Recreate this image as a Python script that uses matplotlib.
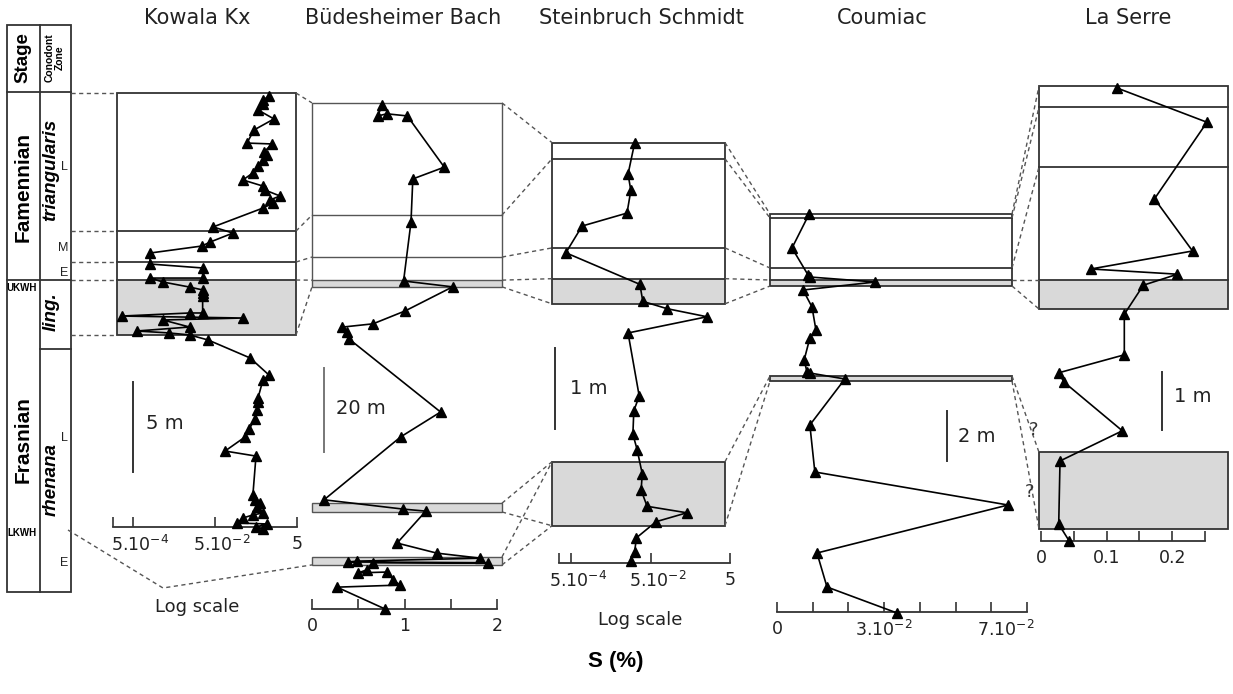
import matplotlib
matplotlib.use("Agg")
import matplotlib.pyplot as plt
from matplotlib.patches import Rectangle
from matplotlib.transforms import blended_transform_factory, ScaledTranslation

plt.rcParams["font.family"] = ["DejaVu Sans"]

# ---- measured S (%) and height above section base (m) ----
kowala_s = [1.04, 0.74, 0.74, 0.56, 1.37, 0.45, 0.30, 1.23, 0.78, 0.93, 0.74, 0.56,
            0.42, 0.24, 0.74, 0.83, 1.92, 1.10, 1.30, 0.74, 0.045, 0.137, 0.038, 0.024,
            0.0013, 0.0013, 0.025, 0.025, 0.0013, 0.0027, 0.012, 0.025, 0.025, 0.025,
            0.025, 0.012, 0.00027, 0.24, 0.0027, 0.012, 0.00063, 0.0038, 0.012, 0.034,
            0.36, 1.04, 0.74, 0.56, 0.56, 0.53, 0.47, 0.34, 0.27, 0.088, 0.5, 0.42,
            0.47, 0.63, 0.53, 0.74, 0.42, 0.24, 0.17, 0.93, 0.5, 0.74]
kowala_h = [23.94, 23.72, 23.5, 23.17, 22.67, 22.06, 21.33, 21.28, 20.83, 20.67, 20.39, 20.06,
            19.67, 19.28, 18.94, 18.72, 18.39, 18.17, 18.0, 17.72, 16.67, 16.33, 15.83, 15.61,
            15.22, 14.61, 14.39, 13.83, 13.83, 13.61, 13.33, 13.17, 13.0, 12.83,
            11.89, 11.89, 11.72, 11.61, 11.5, 11.11, 10.89, 10.78, 10.67, 10.39,
            9.39, 8.44, 8.17, 7.17, 6.94, 6.5, 6.0, 5.44, 5.0, 4.22, 3.94, 1.78,
            1.5, 1.33, 1.11, 0.78, 0.67, 0.5, 0.22, 0.17, 0.0, -0.11]

budes_s = [0.76, 0.71, 0.81, 1.03, 1.43, 1.09, 1.07, 0.99, 1.52, 1.01, 0.66, 0.32, 0.38,
           0.40, 1.39, 0.96, 0.13, 0.98, 1.23, 0.92, 1.35, 1.82, 0.49, 0.39, 1.90, 0.66,
           0.59, 0.50, 0.81, 0.88, 0.95, 0.27, 0.79]
budes_h = [120.0, 117.4, 117.9, 117.4, 105.2, 102.4, 92.1, 78.1, 76.7, 71.0, 67.9, 67.1, 66.0,
           64.3, 46.9, 41.0, 26.0, 23.8, 23.3, 15.7, 13.3, 12.1, 11.4, 11.2, 11.0, 11.0,
           9.3, 8.6, 8.8, 6.9, 5.7, 5.2, 0.0]

stein_s = [0.020, 0.0136, 0.016, 0.0128, 0.00095, 0.00037, 0.027, 0.032, 0.13, 1.32, 0.0136,
           0.026, 0.019, 0.018, 0.023, 0.031, 0.029, 0.041, 0.41, 0.069, 0.022, 0.020, 0.016]
stein_h = [5.19, 4.80, 4.60, 4.32, 4.16, 3.83, 3.44, 3.23, 3.14, 3.04, 2.84,
           2.06, 1.88, 1.59, 1.40, 1.10, 0.90, 0.70, 0.62, 0.51, 0.31, 0.14, 0.02]

coumiac_s = [0.0090, 0.0042, 0.0087, 0.0092, 0.0275, 0.0073, 0.0098, 0.0109, 0.0092, 0.0076,
             0.0084, 0.0092, 0.0190, 0.0092, 0.0106, 0.0647, 0.0112, 0.0140, 0.0336]
coumiac_h = [15.92, 14.56, 13.48, 13.40, 13.20, 12.88, 12.20, 11.28, 10.96, 10.08,
             9.60, 9.56, 9.32, 7.48, 5.60, 4.28, 2.36, 1.00, -0.04]

serre_s = [0.116, 0.253, 0.173, 0.231, 0.076, 0.208, 0.156, 0.127, 0.127, 0.027, 0.035,
           0.124, 0.029, 0.027, 0.043]
serre_h = [7.81, 7.22, 5.90, 5.00, 4.69, 4.60, 4.41, 3.91, 3.21, 2.90, 2.74,
           1.90, 1.38, 0.29, 0.0]

# ---- stratigraphic frames (m): frame bottom/top, inner lines, shaded parts, extra bands ----
kowala_frame = (10.67, 24.11)
kowala_lines = [16.44, 14.72, 13.72]
kowala_grey = [(10.67, 13.72)]
kowala_bands = []

budes_frame = (76.7, 120.5)
budes_lines = [93.8, 83.8, 78.3]
budes_grey = [(76.7, 78.3)]
budes_bands = [(23.1, 25.2), (10.5, 12.4)]

stein_frame = (3.20, 5.19)
stein_lines = [4.99, 3.89, 3.51]
stein_grey = [(3.20, 3.51)]
stein_bands = [(0.46, 1.25)]

coumiac_frame = (13.04, 15.92)
coumiac_lines = [15.76, 13.76, 13.28]
coumiac_grey = [(13.04, 13.28)]
coumiac_bands = [(9.24, 9.44)]

serre_frame = (4.0, 7.84)
serre_lines = [7.48, 6.45, 4.5]
serre_grey = [(4.0, 4.5)]
serre_bands = [(0.21, 1.53)]

# correlation ties between neighbouring sections (m in left section, m in right section)
ties_kow_bud = [(24.11, 120.5), (16.44, 93.8), (14.72, 83.8), (13.72, 78.3), (10.67, 76.7)]
ties_bud_ste = [(120.5, 5.19), (93.8, 4.99), (83.8, 3.89), (78.3, 3.51), (76.7, 3.20),
                (25.2, 1.25), (23.1, 0.46), (12.4, 1.25), (10.5, 0.46)]
ties_ste_cou = [(5.19, 15.92), (4.99, 15.76), (3.89, 13.76), (3.51, 13.28), (3.20, 13.04),
                (1.25, 9.44), (0.46, 9.24)]
ties_cou_ser = [(15.92, 7.84), (15.76, 7.48), (13.76, 6.45), (13.28, 4.5), (13.04, 4.0),
                (9.44, 1.53), (9.24, 0.21)]

GREY = "#d9d9d9"
EDGE = "#333333"

W, H = 1233, 694
fig = plt.figure(figsize=(W / 100, H / 100), dpi=100)
base = fig.add_axes([0, 0, 1, 1])
base.set_xlim(0, W)
base.set_ylim(H, 0)
base.axis("off")


def make_panel(x0, x1, y_axis, pxpm, xlim, log=False):
    top = 70
    ax = fig.add_axes([x0 / W, 1 - y_axis / H, (x1 - x0) / W, (y_axis - top) / H])
    if log:
        ax.set_xscale("log")
    ax.set_xlim(*xlim)
    ax.set_ylim(0, (y_axis - top) / pxpm)
    ax.patch.set_alpha(0)
    for s in ("top", "left", "right"):
        ax.spines[s].set_visible(False)
    ax.spines["bottom"].set_color(EDGE)
    ax.spines["bottom"].set_linewidth(1.3)
    ax.set_yticks([])
    ax.minorticks_off()
    ax.tick_params(axis="x", which="both", direction="in", length=7, width=1.2,
                   color=EDGE, labelsize=12.5, pad=6, labelcolor="#222222")
    return ax


def draw_frame(ax, bx0, bx1, frame, lines, grey, bands, edge=EDGE, lw=1.3):
    tr = blended_transform_factory(base.transData, ax.transData)
    for b, t in grey:
        base.add_patch(Rectangle((bx0, b), bx1 - bx0, t - b, transform=tr, fc=GREY, ec="none"))
    base.add_patch(Rectangle((bx0, frame[0]), bx1 - bx0, frame[1] - frame[0], transform=tr,
                             fill=False, ec=edge, lw=lw))
    for h in lines:
        base.plot([bx0, bx1], [h, h], transform=tr, color=edge, lw=lw)
    for b, t in bands:
        base.add_patch(Rectangle((bx0, b), bx1 - bx0, t - b, transform=tr, fc=GREY, ec=edge, lw=lw))


def ypx(ax, h):
    disp = ax.transData.transform((ax.get_xlim()[0], h))
    return base.transData.inverted().transform(disp)[1]


def scale_bar(ax, x, h0, h1, label, tx, ty, color=EDGE):
    tr = blended_transform_factory(base.transData, ax.transData)
    base.plot([x, x], [h0, h1], transform=tr, color=color, lw=1.4)
    base.text(tx, ty, label, fontsize=14, va="center", ha="left", color="#222222")


def profile(ax, s, h):
    ax.plot(s, h, color="black", lw=1.2, marker="^", ms=6.5, mfc="black", mec="black",
            clip_on=False, zorder=5)


def nudge_labels(ax, dx_px):
    # superscripted labels sit slightly right of their tick in the original
    off = ScaledTranslation(dx_px / 100, 0, fig.dpi_scale_trans)
    for lab in ax.get_xticklabels():
        if "$" in lab.get_text():
            lab.set_transform(lab.get_transform() + off)


# ---- panels ----
ax_kow = make_panel(113, 297, 527, 18, (1.63e-4, 5), log=True)
ax_kow.set_xticks([1.63e-4, 5e-4, 5e-2, 5], ["", "5.10$^{-4}$", "5.10$^{-2}$", "5"])
ax_bud = make_panel(312, 497, 609, 4.2, (0, 2))
ax_bud.set_xticks([0, 0.5, 1, 1.5, 2], ["0", "", "1", "", "2"])
ax_ste = make_panel(559, 730, 563, 81, (2.49e-4, 5), log=True)
ax_ste.set_xticks([2.49e-4, 5e-4, 5e-2, 5], ["", "5.10$^{-4}$", "5.10$^{-2}$", "5"])
ax_cou = make_panel(777, 1027, 612, 25, (0, 0.07))
ax_cou.set_xticks([0, 0.01, 0.02, 0.03, 0.04, 0.05, 0.06, 0.07],
                  ["0", "", "", "3.10$^{-2}$", "", "", "", "7.10$^{-2}$"])
ax_ser = make_panel(1041, 1205, 541, 58, (0, 0.25))
ax_ser.set_xticks([0, 0.05, 0.1, 0.15, 0.2, 0.25], ["0", "", "0.1", "", "0.2", ""])
for ax in (ax_kow, ax_ste):
    ax.minorticks_off()
    nudge_labels(ax, 7)
ax_cou.get_xticklabels()[-1].set_horizontalalignment("right")
ax_cou.get_xticklabels()[-1].set_transform(
    ax_cou.get_xticklabels()[-1].get_transform() + ScaledTranslation(0.08, 0, fig.dpi_scale_trans))

box_x = {"kow": (117, 296), "bud": (312, 502), "ste": (552, 725),
         "cou": (770, 1012), "ser": (1039, 1228)}

draw_frame(ax_kow, *box_x["kow"], kowala_frame, kowala_lines, kowala_grey, kowala_bands)
draw_frame(ax_bud, *box_x["bud"], budes_frame, budes_lines, budes_grey, budes_bands,
           edge="#555555", lw=1.0)
draw_frame(ax_ste, *box_x["ste"], stein_frame, stein_lines, stein_grey, stein_bands)
draw_frame(ax_cou, *box_x["cou"], coumiac_frame, coumiac_lines, coumiac_grey, coumiac_bands)
draw_frame(ax_ser, *box_x["ser"], serre_frame, serre_lines, serre_grey, serre_bands)

profile(ax_kow, kowala_s, kowala_h)
profile(ax_bud, budes_s, budes_h)
profile(ax_ste, stein_s, stein_h)
profile(ax_cou, coumiac_s, coumiac_h)
profile(ax_ser, serre_s, serre_h)

# ---- correlation ties ----
dash = dict(color="#555555", lw=1.0, ls=(0, (3, 2.5)))
for (axa, ka), (axb, kb), ties in [((ax_kow, "kow"), (ax_bud, "bud"), ties_kow_bud),
                                   ((ax_bud, "bud"), (ax_ste, "ste"), ties_bud_ste),
                                   ((ax_ste, "ste"), (ax_cou, "cou"), ties_ste_cou),
                                   ((ax_cou, "cou"), (ax_ser, "ser"), ties_cou_ser)]:
    for ha, hb in ties:
        base.plot([box_x[ka][1], box_x[kb][0]], [ypx(axa, ha), ypx(axb, hb)], **dash)

# ties from the stage column to Kowala
for h in [kowala_frame[1]] + kowala_lines + [kowala_frame[0]]:
    y = ypx(ax_kow, h)
    base.plot([71, box_x["kow"][0]], [y, y], **dash)
base.plot([68, 163, box_x["bud"][0]], [530, 588, ypx(ax_bud, budes_bands[1][0])], **dash)

base.text(1033, 430, "?", fontsize=13, ha="center", va="center", color="#333333")
base.text(1030, 492, "?", fontsize=13, ha="center", va="center", color="#333333")

# ---- scale bars ----
scale_bar(ax_kow, 133, 3.06, 8.06, "5 m", 146, 423)
scale_bar(ax_bud, 324, 37.4, 57.4, "20 m", 336, 408, color="#777777")
scale_bar(ax_ste, 555, 1.65, 2.65, "1 m", 570, 388)
scale_bar(ax_cou, 947, 6.04, 8.04, "2 m", 958, 436)
scale_bar(ax_ser, 1162, 1.91, 2.91, "1 m", 1174, 396)

# ---- titles and axis notes ----
titles = ["Kowala Kx", "Büdesheimer Bach", "Steinbruch Schmidt", "Coumiac", "La Serre"]
title_x = [197, 403, 641, 882, 1128]
for t, x in zip(titles, title_x):
    base.text(x, 18, t, fontsize=15, ha="center", va="center", color="#222222")
base.text(197, 607, "Log scale", fontsize=13, ha="center", va="center", color="#222222")
base.text(640, 620, "Log scale", fontsize=13, ha="center", va="center", color="#222222")
base.text(616, 662, "S (%)", fontsize=16, fontweight="bold", ha="center", va="center",
          family="Liberation Sans")

# ---- stage / conodont zone column ----
col = dict(color=EDGE, lw=1.3)
base.add_patch(Rectangle((7, 25), 64, 567, fill=False, ec=EDGE, lw=1.3))
base.plot([40, 40], [25, 592], **col)
base.plot([7, 71], [92, 92], **col)
base.plot([7, 71], [280, 280], **col)
base.plot([40, 71], [349, 349], **col)

bold = dict(family="Liberation Sans", fontweight="bold", rotation=90, ha="center", va="center")
base.text(23, 58, "Stage", fontsize=13.5, **bold)
base.text(55, 58, "Conodont\nZone", fontsize=7.5, linespacing=1.0, **bold)
base.text(23, 187, "Famennian", fontsize=15, **bold)
base.text(23, 440, "Frasnian", fontsize=15, **bold)
base.text(51, 170, "triangularis", fontsize=13.5, style="italic", **bold)
base.text(51, 312, "ling.", fontsize=13.5, style="italic", **bold)
base.text(51, 480, "rhenana", fontsize=13.5, style="italic", **bold)
small = dict(family="Liberation Sans", fontweight="bold", fontsize=7, ha="center", va="center")
base.text(22, 288, "UKWH", **small)
base.text(22, 533, "LKWH", **small)
for t, x, y in [("L", 64, 167), ("M", 63, 248), ("E", 64, 273), ("L", 64, 438), ("E", 64, 563)]:
    base.text(x, y, t, fontsize=9, ha="center", va="center", family="Liberation Sans",
              color="#222222")

fig.savefig("out.png", dpi=100)
